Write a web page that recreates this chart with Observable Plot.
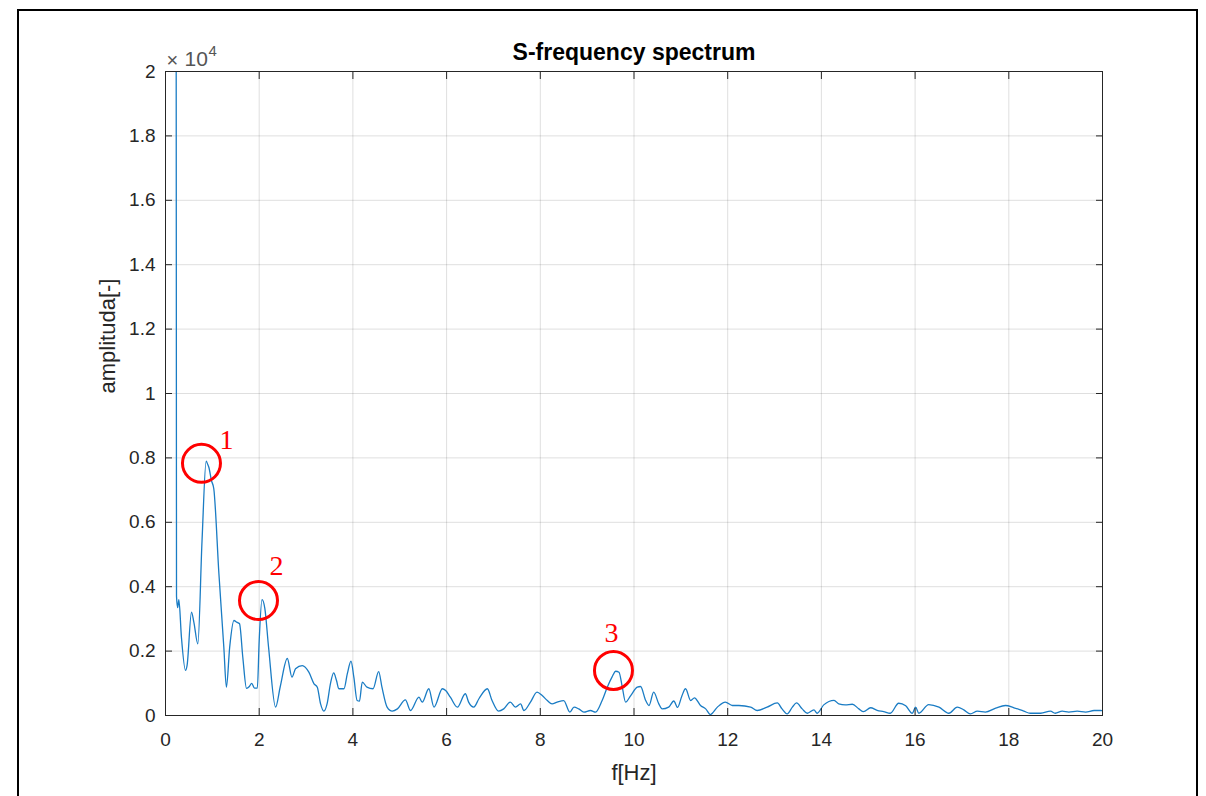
<!DOCTYPE html>
<html>
<head>
<meta charset="utf-8">
<script src="https://cdn.jsdelivr.net/npm/d3@7"></script>
<script src="https://cdn.jsdelivr.net/npm/@observablehq/plot@0.6"></script>
<style>
  html, body { margin: 0; padding: 0; background: #fff; }
  #wrap { position: relative; width: 1206px; height: 796px; overflow: hidden; }
  #border { position: absolute; left: 17px; top: 9px; width: 1177px; height: 900px; border: 2px solid #000; pointer-events: none; }
</style>
</head>
<body>
<div id="wrap"><div id="chart"></div><div id="border"></div></div>
<script>
// Frequency [Hz]
const freq = [0.22,0.235,0.26,0.285,0.34,0.427,0.46,0.555,0.605,0.69,0.78,0.868,0.9,0.925,0.98,1.03,1.14,1.245,1.30,1.37,1.46,1.52,1.58,1.65,1.73,1.79,1.84,1.9,1.96,2.0,2.06,2.12,2.2,2.35,2.45,2.6,2.7,2.775,2.92,3.06,3.17,3.24,3.31,3.38,3.45,3.52,3.59,3.65,3.70,3.81,3.88,3.96,4.02,4.09,4.14,4.20,4.30,4.43,4.55,4.62,4.73,4.84,4.95,5.12,5.23,5.41,5.48,5.62,5.73,5.91,5.98,6.08,6.23,6.40,6.47,6.58,6.69,6.87,6.97,7.11,7.22,7.36,7.47,7.58,7.65,7.79,7.93,8.04,8.15,8.25,8.36,8.50,8.63,8.72,8.82,8.93,9.07,9.18,9.32,9.43,9.53,9.61,9.68,9.75,9.82,9.93,10.07,10.14,10.25,10.32,10.42,10.53,10.60,10.74,10.85,10.93,11.02,11.10,11.21,11.29,11.42,11.53,11.63,11.78,11.95,12.10,12.24,12.49,12.63,12.84,13.06,13.16,13.27,13.38,13.47,13.59,13.70,13.84,13.91,14.05,14.27,14.37,14.51,14.66,14.80,14.90,15.05,15.19,15.33,15.47,15.65,15.80,15.94,16.01,16.08,16.29,16.51,16.72,16.90,17.04,17.18,17.33,17.50,17.72,17.93,18.11,18.32,18.46,18.68,18.89,18.99,19.14,19.28,19.46,19.64,19.82,19.96,20.0];
// Amplitude [-]
const amp = [40000,3700,3350,3600,2430,1400,1550,3210,2900,2225,5435,7900,7800,7710,7300,7050,4400,2120,880,2120,2950,2900,2850,1810,840,900,1000,850,850,2330,3600,3330,2120,260,900,1770,1190,1450,1550,1345,985,880,360,135,370,985,1325,1085,830,830,1290,1690,1190,465,445,1035,880,830,1365,880,260,135,205,485,155,570,415,830,260,830,775,570,260,675,415,260,520,830,465,135,205,415,260,360,155,415,725,620,465,360,415,465,105,260,205,105,155,105,465,880,1190,1375,1345,880,415,620,880,900,465,310,725,360,205,260,450,250,600,830,465,550,310,205,30,260,415,310,310,260,155,260,390,205,50,260,390,205,70,175,70,330,470,360,330,350,205,120,240,160,120,70,380,300,70,260,70,340,260,70,260,175,50,135,105,230,310,240,135,70,70,135,70,135,105,135,105,155,155,150];

const xTicks = [0,2,4,6,8,10,12,14,16,18,20];
const yTicks = [0,2000,4000,6000,8000,10000,12000,14000,16000,18000,20000];

// Peak annotations
const markNames = ["1","2","3"];
const markX = [0.768, 1.985, 9.562];
const markY = [7830, 3571, 1398];
const labelX = [1.30, 2.37, 9.52];
const labelY = [8540, 4627, 2547];

const data = freq.map((f, i) => ({f, a: amp[i]}));
const marks = markNames.map((n, i) => ({n, x: markX[i], y: markY[i], lx: labelX[i], ly: labelY[i]}));

const axisColor = "#262626";
const blank = () => "";

const chart = Plot.plot({
  width: 1206,
  height: 796,
  marginLeft: 165,
  marginRight: 104,
  marginTop: 71,
  marginBottom: 81,
  style: {fontFamily: "'Liberation Sans', Arial, sans-serif", fontSize: "19px", color: axisColor, background: "#fff"},
  x: {domain: [0, 20]},
  y: {domain: [0, 20000]},
  marks: [
    Plot.gridX(xTicks, {stroke: axisColor, strokeOpacity: 0.15}),
    Plot.gridY(yTicks, {stroke: axisColor, strokeOpacity: 0.15}),
    Plot.line(data, {x: "f", y: "a", stroke: "#1a7cc4", strokeWidth: 1.3, clip: true, curve: "monotone-x"}),
    Plot.frame({stroke: axisColor}),
    Plot.axisX(xTicks, {anchor: "bottom", tickSize: 0, tickPadding: 17, label: null, fill: axisColor}),
    Plot.axisX(xTicks, {anchor: "bottom", tickSize: -7, tickFormat: blank, label: null, stroke: axisColor}),
    Plot.axisX(xTicks, {anchor: "top", tickSize: -7, tickFormat: blank, label: null, stroke: axisColor}),
    Plot.axisY(yTicks, {anchor: "left", tickSize: 0, tickPadding: 10, label: null, fill: axisColor,
      tickFormat: d => String(+(d / 1e4).toFixed(1))}),
    Plot.axisY(yTicks, {anchor: "left", tickSize: -7, tickFormat: blank, label: null, stroke: axisColor}),
    Plot.axisY(yTicks, {anchor: "right", tickSize: -7, tickFormat: blank, label: null, stroke: axisColor}),
    Plot.dot(marks, {x: "x", y: "y", r: 19, stroke: "#ff0000", strokeWidth: 3, fill: "none"}),
    Plot.text(marks, {x: "lx", y: "ly", text: "n", fill: "#ff0000", fontSize: 28, fontFamily: "'Liberation Serif', 'Times New Roman', serif"}),
    Plot.text(["S-frequency spectrum"], {frameAnchor: "top", lineAnchor: "middle", dy: -19, fontWeight: "bold", fontSize: 23, fill: "#000"}),
    Plot.text(["f[Hz]"], {frameAnchor: "bottom", lineAnchor: "middle", dy: 57, fontSize: 22, fill: axisColor}),
    Plot.text(["amplituda[-]"], {frameAnchor: "left", lineAnchor: "middle", dx: -58, rotate: -90, fontSize: 22, fill: axisColor}),
    Plot.text(["\u00d7"], {frameAnchor: "top-left", lineAnchor: "middle", textAnchor: "start", dx: 1, dy: -11, fontSize: 20, fill: "#555"}),
    Plot.text(["10"], {frameAnchor: "top-left", lineAnchor: "middle", textAnchor: "start", dx: 19, dy: -12, fontSize: 21, fill: "#555"}),
    Plot.text(["4"], {frameAnchor: "top-left", lineAnchor: "middle", textAnchor: "start", dx: 43, dy: -20, fontSize: 15, fill: "#555"})
  ]
});
document.getElementById("chart").appendChild(chart);
</script>
</body>
</html>
